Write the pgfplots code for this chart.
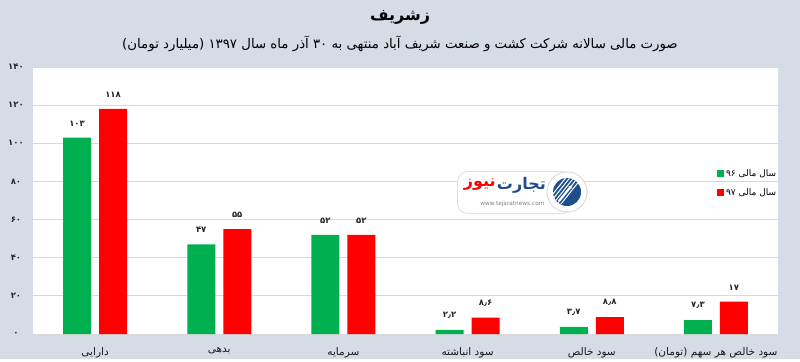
\documentclass[border=0pt]{standalone}
\usepackage{fontspec}
\usepackage{pgfplots}
\pgfplotsset{compat=1.18}
\usetikzlibrary{arrows.meta}
\setmainfont{DejaVu Sans}
\TeXXeTstate=1
\newfontfamily\fa[Script=Arabic]{DejaVu Sans}
\newfontfamily\nums{DejaVu Sans}
\definecolor{bg}{HTML}{D6DCE5}
\definecolor{gr}{HTML}{00B050}
\definecolor{rd}{HTML}{FF0000}
\definecolor{gridc}{HTML}{D9D9D9}
\definecolor{logob}{HTML}{1F4E8C}
\begin{document}
\begin{tikzpicture}
\fill[bg] (0pt,0pt) rectangle (800pt,359pt);
\node[font=\fa\fontsize{16}{19}\selectfont\bfseries] at (400pt,342pt) {\beginR زشریف\endR};
\node[font=\fa\fontsize{13.3}{16}\selectfont] at (400pt,315pt) {\beginR صورت مالی سالانه شرکت کشت و صنعت شریف آباد منتهی به \beginL۳۰\endL{} آذر ماه سال \beginL۱۳۹۷\endL{} (میلیارد تومان)\endR};
\begin{axis}[at={(33pt,25pt)}, anchor=south west, scale only axis,
  width=745pt, height=267pt,
  ymin=0, ymax=140, xmin=-0.5, xmax=5.5,
  axis background/.style={fill=white},
  axis line style={draw=none},
  major tick length=0pt,
  ytick={0,20,40,60,80,100,120,140},
  yticklabels={۰,۲۰,۴۰,۶۰,۸۰,۱۰۰,۱۲۰,۱۴۰},
  yticklabel style={font=\nums\fontsize{8.5}{10}\selectfont\bfseries, anchor=center, xshift=-17pt, text=black!85},
  ymajorgrids, grid style={gridc, line width=0.8pt},
  xtick={0,1,2,3,4,5},
  xticklabels={{\beginR دارایی\endR},{\beginR بدهی\endR},{\beginR سرمایه\endR},{\beginR سود انباشته\endR},{\beginR سود خالص\endR},{\beginR سود خالص هر سهم (تومان)\endR}},
  xticklabel style={font=\fa\fontsize{10.5}{12}\selectfont, yshift=-10pt, text=black!90},
  ybar=8pt, bar width=28pt,
  point meta=explicit symbolic,
  nodes near coords,
  nodes near coords style={font=\nums\fontsize{8.5}{10}\selectfont\bfseries, anchor=south, yshift=8pt, text=black!85},
  legend style={at={(0.914,0.632)}, anchor=north west, draw=none, fill=none,
    font=\fa\fontsize{9}{11}\selectfont, row sep=7pt, cells={anchor=west}},
  legend image code/.code={\fill[#1] (0pt,-3.5pt) rectangle (7pt,3.5pt);},
]
\addplot[fill=gr, draw=none] coordinates {(0,103) [۱۰۳] (1,47) [۴۷] (2,52) [۵۲] (3,2.2) [۲٫۲] (4,3.7) [۳٫۷] (5,7.3) [۷٫۳]};
\addplot[fill=rd, draw=none] coordinates {(0,118) [۱۱۸] (1,55) [۵۵] (2,52) [۵۲] (3,8.6) [۸٫۶] (4,8.8) [۸٫۸] (5,17) [۱۷]};
\legend{{\beginR سال مالی \beginL۹۶\endL\endR},{\beginR سال مالی \beginL۹۷\endL\endR}}
\end{axis}
% watermark logo
\fill[gray!25, rounded corners=11pt] (457pt,145pt) rectangle (573pt,188pt);
\fill[white, rounded corners=10pt] (458pt,146pt) rectangle (572pt,187pt);
\fill[gray!30] (567pt,167pt) circle (20.5pt);
\fill[white] (567pt,167pt) circle (19.5pt);
\fill[logob] (567pt,167pt) circle (14pt);
\begin{scope}
\clip (567pt,167pt) circle (14pt);
\foreach \d in {-12,-8,-4,0,4} {\draw[white, line width=1pt] (553pt+\d pt,150pt) -- (580pt+\d pt,184pt);}
\end{scope}
\draw[white, line width=2.2pt, -{Latex[length=5pt]}] (559pt,158pt) -- (573pt,175pt);
\node[font=\fa\fontsize{16}{18}\selectfont\bfseries, anchor=east, text=logob, inner sep=0pt] (tj) at (546pt,174pt) {تجارت};
\node[font=\fa\fontsize{16}{18}\selectfont\bfseries, anchor=east, text=rd, inner sep=0pt] at ([xshift=-1pt]tj.east -| tj.west) {نیوز};
\node[font=\nums\fontsize{5.8}{6}\selectfont, text=gray, anchor=east] at (548pt,155pt) {www.tejaratnews.com};
\end{tikzpicture}
\end{document}
